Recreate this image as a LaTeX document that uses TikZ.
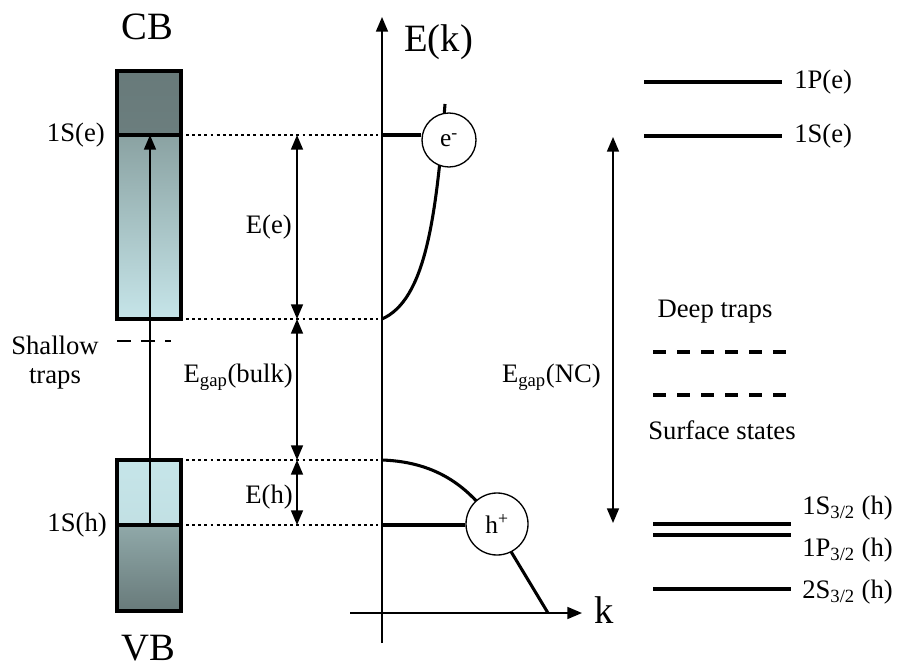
\documentclass[tikz,border=0pt]{standalone}
\usepackage{fontspec}
\setmainfont{Liberation Serif}
\usetikzlibrary{arrows.meta}
\definecolor{bdark}{HTML}{687A7A}
\definecolor{bmid}{HTML}{8AA2A2}
\definecolor{blight}{HTML}{C6E5E9}
\begin{document}
\begin{tikzpicture}[x=0.75pt,y=-0.75pt,
  lvl/.style={line width=2.5pt},
  boxb/.style={line width=2.3pt},
  thinl/.style={line width=1.2pt},
  curv/.style={line width=2.3pt},
  tip/.style={-{Triangle[width=9pt,length=11pt]}},
  dbl/.style={line width=1.2pt,{Triangle[width=9pt,length=11pt]}-{Triangle[width=9pt,length=11pt]}},
  dotl/.style={line width=1.6pt,dash pattern=on 2.2pt off 2.4pt},
  trapd/.style={line width=2.4pt,dash pattern=on 9.75pt off 8.25pt},
  lab/.style={inner sep=0pt,font=\fontsize{20}{24}\selectfont},
  big/.style={inner sep=0pt,font=\fontsize{29}{34}\selectfont},
  part/.style={circle,draw,line width=1pt,fill=white,inner sep=0pt,font=\fontsize{19}{22}\selectfont}]
\useasboundingbox (0,0) rectangle (898,670);

% ---- band boxes ----
\shade[top color=bdark,bottom color=bdark!90!bmid] (117,71) rectangle (181,135);
\shade[top color=bmid,bottom color=blight] (117,135) rectangle (181,319);
\shade[top color=blight,bottom color=blight!92!bmid] (117,460) rectangle (181,525);
\shade[top color=bmid!90!blight,bottom color=bdark] (117,525) rectangle (181,611);
\draw[boxb] (117,71) rectangle (181,319);
\draw[boxb] (117,460) rectangle (181,611);
\coordinate (cbl) at (117,135); \coordinate (cbr) at (181,135);
\coordinate (vbl) at (117,525); \coordinate (vbr) at (181,525);
\draw[boxb] (cbl) -- (cbr);
\draw[boxb] (vbl) -- (vbr);
\coordinate (exs) at (150,525); \coordinate (exe) at (150,135);
\draw[thinl,tip] (exs) -- (exe);

\node[big,anchor=base] (cb) at (147,40) {CB};
\node[big,anchor=base] (vb) at (148,660) {VB};
\node[lab,anchor=east] (l1se) at (105,135) {1S(e)};
\node[lab,anchor=east] (l1sh) at (107,525) {1S(h)};
\node[lab] (shal) at (55,345) {Shallow};
\node[lab] (trp) at (55,379) {traps};
\coordinate (st1) at (117,341); \coordinate (st2) at (171,341);
\draw[line width=2pt,dash pattern=on 10.5pt off 7.5pt] (st1) -- (st2);

% ---- dotted guide lines ----
\coordinate (d1a) at (186,135); \coordinate (d1b) at (378,135);
\coordinate (d2a) at (186,319); \coordinate (d2b) at (378,319);
\coordinate (d3a) at (186,460); \coordinate (d3b) at (378,460);
\coordinate (d4a) at (186,525); \coordinate (d4b) at (378,525);
\draw[dotl] (d1a) -- (d1b);
\draw[dotl] (d2a) -- (d2b);
\draw[dotl] (d3a) -- (d3b);
\draw[dotl] (d4a) -- (d4b);

% ---- energy arrows ----
\coordinate (a1) at (297,135); \coordinate (a2) at (297,319);
\coordinate (a3) at (297,460); \coordinate (a4) at (297,525);
\draw[dbl] (a1) -- (a2);
\draw[dbl] (a2) -- (a3);
\draw[dbl] (a3) -- (a4);
\node[lab,anchor=east] (ee) at (292,227) {E(e)};
\node[lab,anchor=east] (eg) at (293,377) {E\textsubscript{gap}(bulk)};
\node[lab,anchor=east] (eh) at (293,497) {E(h)};

% ---- E(k) axes ----
\coordinate (ay0) at (382,643); \coordinate (ay1) at (382,17);
\coordinate (ax0) at (350,613); \coordinate (ax1) at (582,613);
\draw[thinl,tip] (ay0) -- (ay1);
\draw[thinl,tip] (ax0) -- (ax1);
\node[big,anchor=base west] (ek) at (404,52) {E(k)};
\node[big,anchor=base west] (kk) at (594,623) {k};

% electron branch
\draw[curv] (382,319) .. controls (425,300) and (436,220) .. (445,104);
\node[part,minimum size=40.5pt] (el) at (449,140) {e\textsuperscript{-}};
\coordinate (e0) at (382,135);
\draw[lvl] (e0) -- (el.west |- e0);

% hole branch
\draw[curv] (382,460) .. controls (440,462) and (470,490) .. (492,520) -- (548,613);
\node[part,minimum size=46.5pt] (ho) at (497,524) {h\textsuperscript{+}};
\coordinate (h0) at (382,525);
\draw[lvl] (h0) -- (ho.west |- h0);

% ---- nanocrystal levels ----
\coordinate (n1) at (613,137); \coordinate (n2) at (613,523);
\draw[dbl] (n1) -- (n2);
\node[lab,anchor=east] (egnc) at (601,377) {E\textsubscript{gap}(NC)};

\coordinate (p1a) at (644,82); \coordinate (p1b) at (782,82);
\coordinate (s1a) at (644,136); \coordinate (s1b) at (782,136);
\draw[lvl] (p1a) -- (p1b);
\draw[lvl] (s1a) -- (s1b);
\node[lab,anchor=west] (l1pe) at (794,82) {1P(e)};
\node[lab,anchor=west] (l1se2) at (794,136) {1S(e)};

\node[lab] (deep) at (715,312) {Deep traps};
\coordinate (t1a) at (653,352); \coordinate (t1b) at (790,352);
\coordinate (t2a) at (653,395); \coordinate (t2b) at (790,395);
\draw[trapd] (t1a) -- (t1b);
\draw[trapd] (t2a) -- (t2b);
\node[lab] (surf) at (722,430) {Surface states};

\coordinate (h1a) at (653,524); \coordinate (h1b) at (791,524);
\coordinate (h2a) at (653,535); \coordinate (h2b) at (791,535);
\coordinate (h3a) at (653,589); \coordinate (h3b) at (791,589);
\draw[lvl] (h1a) -- (h1b);
\draw[lvl] (h2a) -- (h2b);
\draw[lvl] (h3a) -- (h3b);
\node[lab,anchor=west] (lh1) at (802,508) {1S\textsubscript{3/2} (h)};
\node[lab,anchor=west] (lh2) at (802,550) {1P\textsubscript{3/2} (h)};
\node[lab,anchor=west] (lh3) at (802,592) {2S\textsubscript{3/2} (h)};
\end{tikzpicture}
\end{document}
